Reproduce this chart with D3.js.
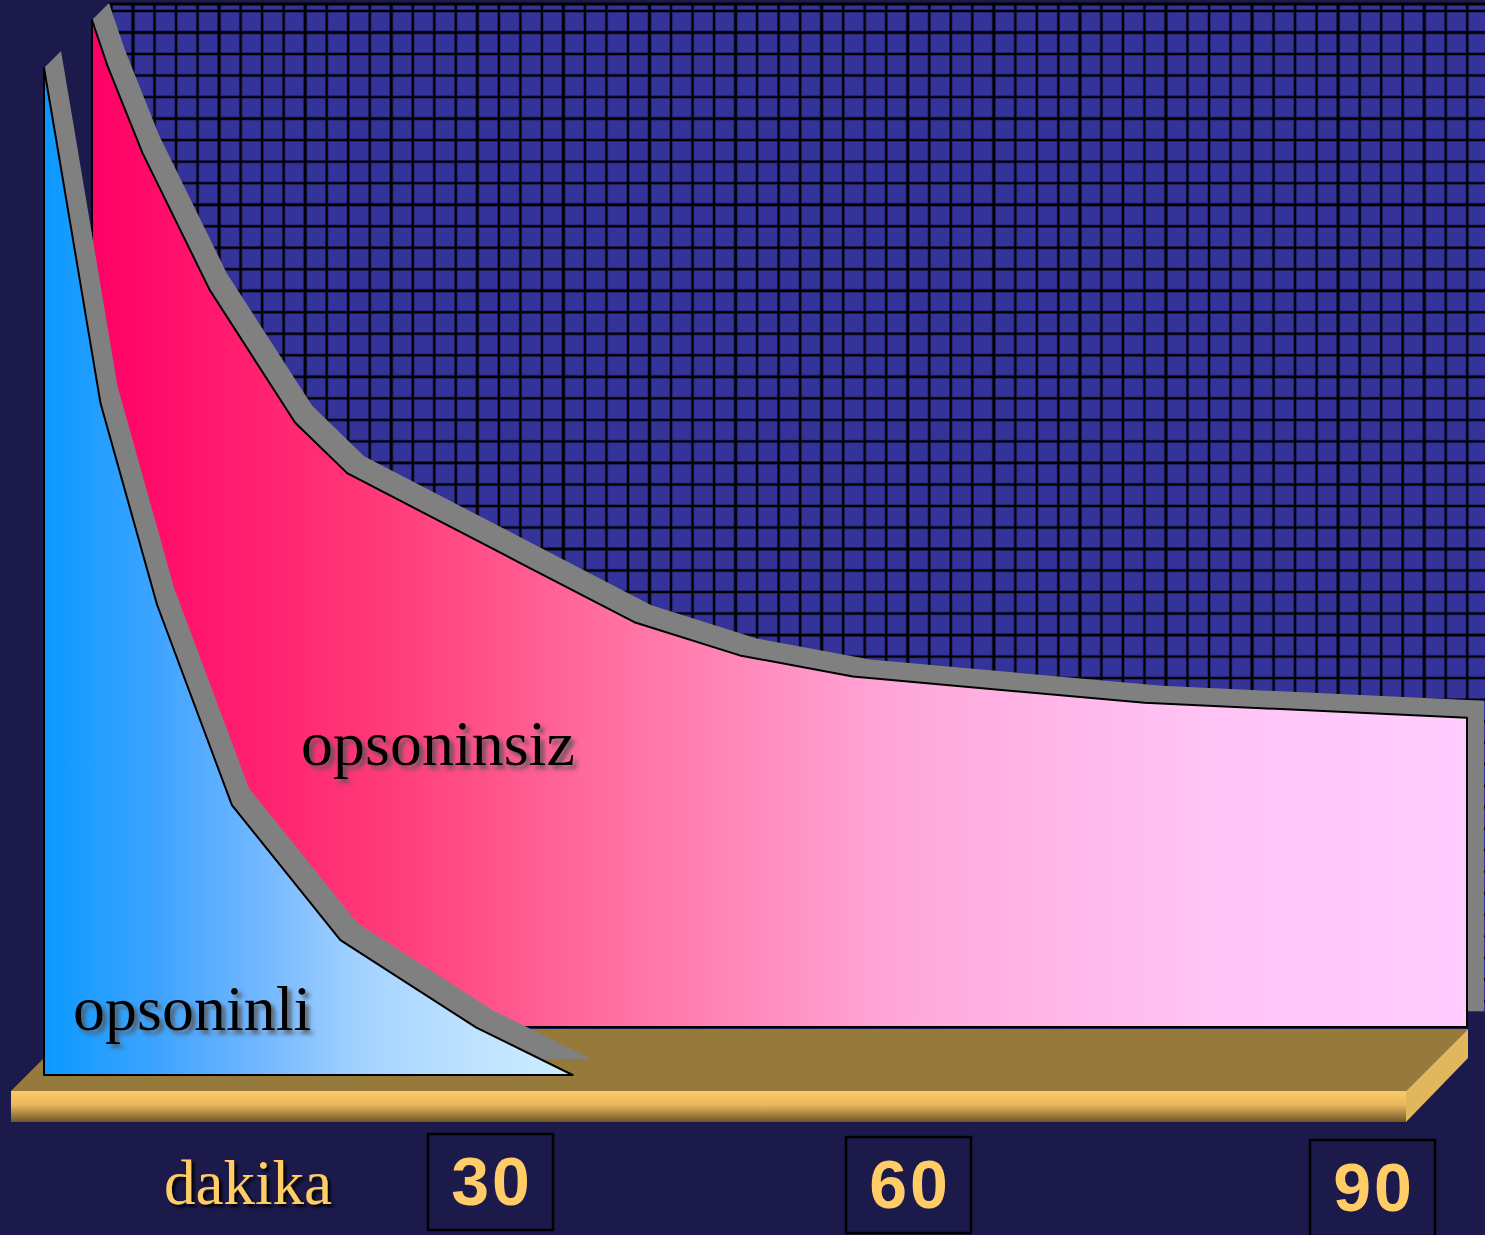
<!DOCTYPE html>
<html lang="tr">
	<head>
		<meta charset="utf-8">
		<title>opsoninli / opsoninsiz</title>
		<script type="text/javascript" src="https://d3js.org/d3.v7.min.js"></script>
		<style type="text/css">
			body{ margin:0; background:#1b1a4b; }
			svg{ display:block; }
		</style>
	</head>
	<body>
		<script type="text/javascript">

			// data (minutes, % remaining)
			var seriesNames = ["opsoninli", "opsoninsiz"];
			var minutesOpsoninli = [0, 0.85, 3.7, 7.4, 12.3, 19.4, 28.3, 34.6];
			var valuesOpsoninli  = [100, 92.4, 66.7, 46.7, 26.8, 13.4, 4.7, 0];
			var minutesOpsoninsiz = [0, 1, 3.3, 7.7, 13.3, 16.7, 28, 35.5, 42.4, 49.8, 68.9, 90];
			var valuesOpsoninsiz  = [100, 95.5, 86.8, 73.2, 60, 55, 46.1, 40.2, 36.9, 34.8, 32.2, 30.7];
			var tickMinutes = [30, 60, 90];
			var tickLabels = ["30", "60", "90"];
			var axisTitle = "dakika";

			var w = 1485;
			var h = 1235;

			var svg = d3.select("body")
						.append("svg")
						.attr("width", w)
						.attr("height", h);

			svg.append("rect")
				.attr("width", w)
				.attr("height", h)
				.attr("fill", "#1b1a4b");

			var defs = svg.append("defs");

			// front row scales, rows further back are shifted by rowShift
			var x = d3.scaleLinear().domain([0, 90]).range([44, 1419]);
			var y = d3.scaleLinear().domain([0, 100]).range([1075, 68]);
			var rowShift = 48;
			var depth = 17;
			var tickX = d3.scaleLinear().domain(tickMinutes).range([490, 908, 1372]);

			// gradients
			function hGrad(id, x1, x2, stops){
				var g = defs.append("linearGradient")
							.attr("id", id)
							.attr("gradientUnits", "userSpaceOnUse")
							.attr("x1", x1).attr("x2", x2)
							.attr("y1", 0).attr("y2", 0);
				stops.forEach(function(s){
					g.append("stop").attr("offset", s[0]).attr("stop-color", s[1]);
				});
			}
			hGrad("gPink", x(0) + rowShift, x(90) + rowShift,
				[[0, "#ff0066"], [0.21, "#ff3a78"], [0.37, "#ff6d9e"], [0.59, "#ffa8da"], [0.81, "#ffc4f5"], [1, "#ffccff"]]);
			hGrad("gBlue", x(0), x(d3.max(minutesOpsoninli)),
				[[0, "#0a99ff"], [0.22, "#40a4ff"], [0.4, "#70b6ff"], [0.6, "#a4d2ff"], [0.8, "#bde2ff"], [1, "#cdeeff"]]);

			var fg = defs.append("linearGradient")
						.attr("id", "gFloor")
						.attr("x1", 0).attr("x2", 0).attr("y1", 0).attr("y2", 1);
			fg.append("stop").attr("offset", 0).attr("stop-color", "#fdca68");
			fg.append("stop").attr("offset", 0.45).attr("stop-color", "#e9b85e");
			fg.append("stop").attr("offset", 1).attr("stop-color", "#6e5628");

			function shadow(id, color, off, blur){
				defs.append("filter")
					.attr("id", id)
					.attr("x", "-10%").attr("y", "-20%")
					.attr("width", "130%").attr("height", "150%")
					.append("feDropShadow")
					.attr("dx", off).attr("dy", off)
					.attr("stdDeviation", blur)
					.attr("flood-color", color)
					.attr("flood-opacity", 0.9);
			}
			shadow("shGray", "#555555", 4, 2);
			shadow("shDark", "#000000", 3, 1.5);

			// back wall with grid
			var wall = {x0: 108, x1: w, y0: 3, y1: 1012};
			var cell = 21.52;
			svg.append("rect")
				.attr("x", wall.x0).attr("y", wall.y0)
				.attr("width", wall.x1 - wall.x0).attr("height", wall.y1 - wall.y0)
				.attr("fill", "#333399");

			var gxs = d3.range(111.5, wall.x1, cell);
			var gys = d3.range(11, wall.y1, cell);

			// soft halo first, then the black core
			[{c: "#202066", extra: 1.6}, {c: "#000", extra: 0}].forEach(function(pass){
				var g = svg.append("g").attr("stroke", pass.c);
				g.selectAll("line.v")
					.data(gxs)
					.enter()
					.append("line")
					.attr("x1", function(d){ return d; })
					.attr("x2", function(d){ return d; })
					.attr("y1", wall.y0).attr("y2", wall.y1)
					.attr("stroke-width", function(d, i){ return (i % 4 == 1 ? 2.6 : 1.9) + pass.extra; });
				g.selectAll("line.h")
					.data(gys)
					.enter()
					.append("line")
					.attr("x1", wall.x0).attr("x2", wall.x1)
					.attr("y1", function(d){ return d; })
					.attr("y2", function(d){ return d; })
					.attr("stroke-width", function(d, i){ return (i % 4 == 1 ? 2.4 : 1.9) + pass.extra; });
			});
			svg.append("line")
				.attr("x1", wall.x0).attr("x2", wall.x1)
				.attr("y1", wall.y0 + 1).attr("y2", wall.y0 + 1)
				.attr("stroke", "#000").attr("stroke-width", 3);

			// floor
			var floor = {x0: 11, x1: 1406, top: 1091, bottom: 1122, d: 62};
			var poly = d3.line();
			svg.append("path")
				.attr("d", poly([[floor.x0, floor.top], [floor.x1, floor.top], [floor.x1 + floor.d, floor.top - floor.d], [floor.x0 + floor.d, floor.top - floor.d]]) + "Z")
				.attr("fill", "#957a3c");
			svg.append("rect")
				.attr("x", floor.x0).attr("y", floor.top)
				.attr("width", floor.x1 - floor.x0).attr("height", floor.bottom - floor.top)
				.attr("fill", "url(#gFloor)");
			svg.append("path")
				.attr("d", poly([[floor.x1, floor.top], [floor.x1 + floor.d, floor.top - floor.d], [floor.x1 + floor.d, floor.bottom - floor.d - 2], [floor.x1, floor.bottom]]) + "Z")
				.attr("fill", "#e2b75c");

			// series, back row first
			var series = [
				{name: seriesNames[1], minutes: minutesOpsoninsiz, values: valuesOpsoninsiz, row: 1, fill: "url(#gPink)", lx: 301, ly: 765},
				{name: seriesNames[0], minutes: minutesOpsoninli, values: valuesOpsoninli, row: 0, fill: "url(#gBlue)", lx: 73, ly: 1030}
			];

			series.forEach(function(s, k){
				var off = s.row * rowShift;
				var top = s.minutes.map(function(m, i){
					return [x(m) + off, y(s.values[i]) - off];
				});
				var base = y(0) - off;
				var first = top[0];
				var last = top[top.length - 1];

				// gray top / side of the 3D band, cut at the back edge of the base
				defs.append("clipPath")
					.attr("id", "clipBand" + k)
					.append("rect")
					.attr("x", 0).attr("y", 0)
					.attr("width", w).attr("height", base - depth + 1);
				var back = top.map(function(p){ return [p[0] + depth, p[1] - depth]; }).reverse();
				var band = top.concat([[last[0], base], [last[0] + depth, base - depth]]).concat(back);
				svg.append("path")
					.attr("d", poly(band) + "Z")
					.attr("fill", "#808080")
					.attr("clip-path", "url(#clipBand" + k + ")");

				// front face
				var face = top.concat([[last[0], base], [first[0], base]]);
				svg.append("path")
					.attr("d", poly(face) + "Z")
					.attr("fill", s.fill)
					.attr("stroke", "#000")
					.attr("stroke-width", 2)
					.attr("stroke-linejoin", "round");

				svg.append("text")
					.attr("x", s.lx)
					.attr("y", s.ly)
					.attr("font-family", "'Liberation Serif', 'Times New Roman', serif")
					.attr("font-size", 64)
					.attr("fill", "#000")
					.attr("filter", "url(#shGray)")
					.text(s.name);
			});

			// x axis title and tick boxes
			svg.append("text")
				.attr("x", 164)
				.attr("y", 1204)
				.attr("font-family", "'Liberation Serif', 'Times New Roman', serif")
				.attr("font-size", 63)
				.attr("fill", "#ffcc66")
				.attr("filter", "url(#shDark)")
				.text(axisTitle);

			var ticks = svg.selectAll("g.tick")
							.data(tickMinutes)
							.enter()
							.append("g")
							.attr("class", "tick")
							.attr("transform", function(d, i){ return "translate(" + tickX(d) + "," + (1134 + i * 3) + ")"; });
			ticks.append("rect")
				.attr("x", -62).attr("y", 0)
				.attr("width", 125).attr("height", 96)
				.attr("fill", "none")
				.attr("stroke", "#000")
				.attr("stroke-width", 2.5);
			ticks.append("text")
				.attr("x", 2)
				.attr("y", 71)
				.attr("text-anchor", "middle")
				.attr("font-family", "'Liberation Sans', Arial, sans-serif")
				.attr("font-weight", "bold")
				.attr("font-size", 68)
				.attr("letter-spacing", 3)
				.attr("fill", "#ffcc66")
				.text(function(d, i){ return tickLabels[i]; });

		</script>
	</body>
</html>
